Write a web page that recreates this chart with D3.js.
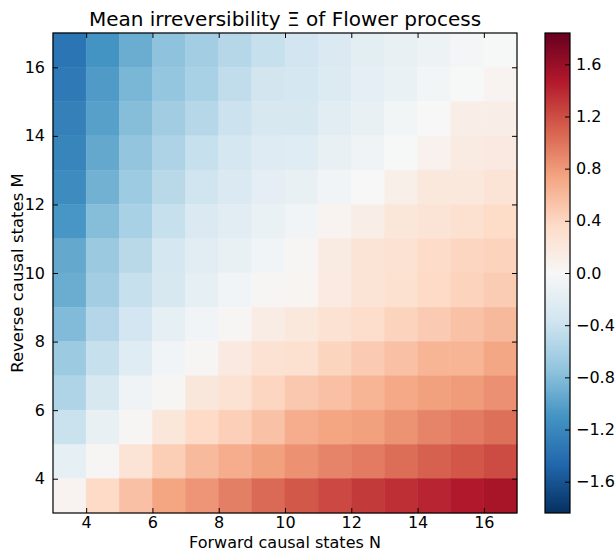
<!DOCTYPE html>
<html lang="en">
<head>
	<meta charset="utf-8">
	<title>Mean irreversibility of Flower process</title>
	<script src="https://d3js.org/d3.v7.min.js"></script>
	<style>
		body { margin: 0; background: #fff; }
		text { font-family: "DejaVu Sans", sans-serif; fill: #000; }
	</style>
</head>
<body>
<script>
// forward causal states (columns) and reverse causal states (rows)
var nStates = [3, 4, 5, 6, 7, 8, 9, 10, 11, 12, 13, 14, 15, 16];
var mStates = [16, 15, 14, 13, 12, 11, 10, 9, 8, 7, 6, 5, 4, 3];

// mean irreversibility, one row per M (top row M = 16), columns N = 3..16
var xi = [
	[-1.35, -1.10, -0.92, -0.75, -0.64, -0.53, -0.43, -0.36, -0.28, -0.19, -0.15, -0.10, -0.04, -0.01],
	[-1.32, -1.05, -0.85, -0.72, -0.60, -0.46, -0.35, -0.33, -0.26, -0.18, -0.13, -0.05, -0.01,  0.05],
	[-1.26, -1.01, -0.79, -0.65, -0.53, -0.40, -0.31, -0.30, -0.21, -0.14, -0.05,  0.00,  0.12,  0.12],
	[-1.22, -0.95, -0.73, -0.57, -0.43, -0.33, -0.24, -0.22, -0.15, -0.08, -0.01,  0.08,  0.16,  0.18],
	[-1.17, -0.88, -0.67, -0.51, -0.37, -0.27, -0.18, -0.14, -0.06,  0.00,  0.11,  0.20,  0.20,  0.26],
	[-1.08, -0.79, -0.60, -0.43, -0.27, -0.20, -0.13, -0.06,  0.05,  0.12,  0.22,  0.25,  0.29,  0.36],
	[-0.95, -0.69, -0.51, -0.33, -0.20, -0.15, -0.07,  0.03,  0.16,  0.25,  0.28,  0.35,  0.40,  0.42],
	[-0.92, -0.64, -0.43, -0.30, -0.16, -0.06,  0.03,  0.04,  0.17,  0.26,  0.29,  0.37,  0.42,  0.47],
	[-0.81, -0.54, -0.34, -0.16, -0.06,  0.02,  0.14,  0.20,  0.28,  0.34,  0.42,  0.48,  0.54,  0.60],
	[-0.68, -0.43, -0.23, -0.07,  0.02,  0.18,  0.28,  0.30,  0.41,  0.48,  0.55,  0.63,  0.63,  0.72],
	[-0.56, -0.30, -0.08,  0.03,  0.21,  0.28,  0.40,  0.50,  0.55,  0.63,  0.71,  0.76,  0.79,  0.85],
	[-0.41, -0.15,  0.03,  0.22,  0.37,  0.45,  0.54,  0.68,  0.73,  0.76,  0.83,  0.91,  0.96,  1.02],
	[-0.17,  0.03,  0.26,  0.46,  0.59,  0.68,  0.76,  0.84,  0.91,  0.96,  1.03,  1.10,  1.15,  1.21],
	[ 0.05,  0.37,  0.55,  0.73,  0.82,  0.94,  1.05,  1.14,  1.22,  1.30,  1.36,  1.41,  1.47,  1.52]
];

var axisTicks = [4, 6, 8, 10, 12, 14, 16];
var colorTicks = [-1.6, -1.2, -0.8, -0.4, 0.0, 0.4, 0.8, 1.2, 1.6];
var colorLimit = 1.84;

// matplotlib RdBu_r
var rdbuR = ["#053061", "#2166ac", "#4393c3", "#92c5de", "#d1e5f0", "#f7f7f7",
	"#fddbc7", "#f4a582", "#d6604d", "#b2182b", "#67001f"];

var width = 616, height = 552;
var plot = {left: 53, right: 517, top: 33, bottom: 513};
var cbar = {left: 545, right: 570};

var color = d3.scaleLinear()
	.domain(d3.range(rdbuR.length).map(function(i) { return -colorLimit + i * 2 * colorLimit / (rdbuR.length - 1); }))
	.range(rdbuR)
	.interpolate(d3.interpolateRgb);

var x = d3.scaleLinear().domain([3, 17]).range([plot.left, plot.right]);
var y = d3.scaleLinear().domain([3, 17]).range([plot.bottom, plot.top]);
var cy = d3.scaleLinear().domain([-colorLimit, colorLimit]).range([plot.bottom, plot.top]);

var svg = d3.select("body").append("svg")
	.attr("width", width)
	.attr("height", height);

var cells = [];
mStates.forEach(function(m, i) {
	nStates.forEach(function(n, j) {
		cells.push({n: n, m: m, v: xi[i][j]});
	});
});

svg.append("g").selectAll("rect")
	.data(cells)
	.enter().append("rect")
	.attr("x", function(d) { return x(d.n); })
	.attr("y", function(d) { return y(d.m + 1); })
	.attr("width", function(d) { return x(d.n + 1) - x(d.n); })
	.attr("height", function(d) { return y(d.m) - y(d.m + 1); })
	.attr("fill", function(d) { return color(d.v); })
	.attr("stroke", function(d) { return color(d.v); })
	.attr("stroke-width", 0.5);

// axes, ticks pointing inwards on all four sides
function styleAxis(g) {
	g.select(".domain").remove();
	g.selectAll(".tick line").attr("stroke", "#000").attr("stroke-width", 1);
	g.selectAll(".tick text").attr("font-size", 16).attr("font-family", "DejaVu Sans");
}

svg.append("g")
	.attr("transform", "translate(0," + plot.bottom + ")")
	.call(d3.axisBottom(x).tickValues(axisTicks).tickSizeInner(-5).tickPadding(4).tickFormat(d3.format("d")))
	.call(styleAxis);
svg.append("g")
	.attr("transform", "translate(0," + plot.top + ")")
	.call(d3.axisTop(x).tickValues(axisTicks).tickSizeInner(-5).tickFormat(""))
	.call(styleAxis);
svg.append("g")
	.attr("transform", "translate(" + plot.left + ",0)")
	.call(d3.axisLeft(y).tickValues(axisTicks).tickSizeInner(-5).tickPadding(8).tickFormat(d3.format("d")))
	.call(styleAxis);
svg.append("g")
	.attr("transform", "translate(" + plot.right + ",0)")
	.call(d3.axisRight(y).tickValues(axisTicks).tickSizeInner(-5).tickFormat(""))
	.call(styleAxis);

svg.append("rect")
	.attr("x", plot.left)
	.attr("y", plot.top)
	.attr("width", plot.right - plot.left)
	.attr("height", plot.bottom - plot.top)
	.attr("fill", "none")
	.attr("stroke", "#000")
	.attr("stroke-width", 1.2);

// colorbar
var grad = svg.append("defs").append("linearGradient")
	.attr("id", "cbgrad")
	.attr("x1", 0).attr("y1", 1).attr("x2", 0).attr("y2", 0);
rdbuR.forEach(function(c, i) {
	grad.append("stop")
		.attr("offset", i / (rdbuR.length - 1))
		.attr("stop-color", c);
});
svg.append("rect")
	.attr("x", cbar.left)
	.attr("y", plot.top)
	.attr("width", cbar.right - cbar.left)
	.attr("height", plot.bottom - plot.top)
	.attr("fill", "url(#cbgrad)")
	.attr("stroke", "#000")
	.attr("stroke-width", 1.2);

var fmt = function(d) { return d3.format(".1f")(d).replace("-", "\u2212"); };
svg.append("g")
	.attr("transform", "translate(" + cbar.right + ",0)")
	.call(d3.axisRight(cy).tickValues(colorTicks).tickSizeInner(-5).tickPadding(6).tickFormat(fmt))
	.call(styleAxis);

// labels
svg.append("text")
	.attr("x", (plot.left + plot.right) / 2)
	.attr("y", 26)
	.attr("text-anchor", "middle")
	.attr("font-size", 20)
	.text("Mean irreversibility \u039E of Flower process");

svg.append("text")
	.attr("x", (plot.left + plot.right) / 2)
	.attr("y", 548)
	.attr("text-anchor", "middle")
	.attr("font-size", 16)
	.text("Forward causal states N");

svg.append("text")
	.attr("transform", "translate(23," + (plot.top + plot.bottom) / 2 + ") rotate(-90)")
	.attr("text-anchor", "middle")
	.attr("font-size", 16.5)
	.text("Reverse causal states M");
</script>
</body>
</html>
